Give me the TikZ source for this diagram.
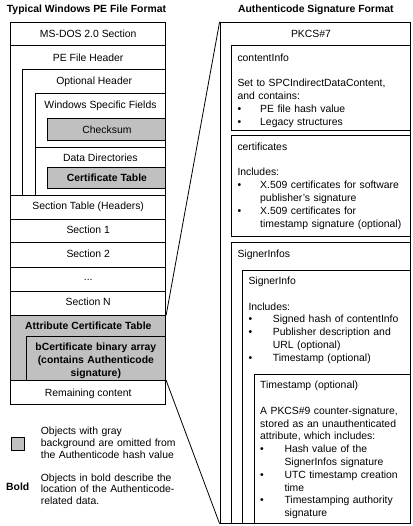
\documentclass[tikz,border=0pt]{standalone}
\usepackage{fontspec}
\setmainfont{Liberation Sans}
\usetikzlibrary{fit}
\definecolor{shade}{RGB}{192,192,192}
\newcommand{\bulitem}[2]{\makebox[#1][l]{\textbullet}#2}
\newcommand{\contline}[2]{\hspace*{#1}#2}
\begin{document}
\begin{tikzpicture}[x=1pt,y=-1pt,
  box/.style={draw, line width=0.8pt, inner sep=0pt},
  gbox/.style={box, fill=shade},
  lbl/.style={inner sep=0pt, text height=7.45pt, text depth=0pt, font=\fontsize{10.4}{12.8}\selectfont},
  blbl/.style={lbl, font=\fontsize{10.4}{12.8}\selectfont\bfseries},
  txt/.style={inner sep=0pt, anchor=base west, align=left, text width=200pt, font=\fontsize{10.4}{12.8}\selectfont},
  conn/.style={line width=0.8pt}]
\useasboundingbox (0,0) rectangle (412,526);
% ---------- left: PE file ----------
\node[box, fit={(10.7,22) (165.7,45.7)}] (msdos) {};
\node[box, fit={(10.7,45.7) (165.7,195)}] (pe) {};
\node[box, fit={(22.7,69.7) (165.7,195)}] (opt) {};
\node[box, fit={(35.3,93.7) (165.7,147.7)}] (win) {};
\node[gbox, fit={(47.7,118.3) (165.7,140.3)}] (chk) {};
\node[box, fit={(35.3,147.7) (165.7,195)}] (dd) {};
\node[gbox, fit={(47.7,167) (165.7,188.3)}] (ct) {};
\node[box, fit={(10.7,195) (165.7,219.3)}] (sect) {};
\node[box, fit={(10.7,219.3) (165.7,242.7)}] (s1) {};
\node[box, fit={(10.7,242.7) (165.7,267)}] (s2) {};
\node[box, fit={(10.7,267) (165.7,291)}] (sdots) {};
\node[box, fit={(10.7,291) (165.7,315)}] (sn) {};
\node[gbox, fit={(10.7,315) (165.7,380.7)}] (act) {};
\node[gbox, fit={(26,336) (165.7,380.7)}] (bcert) {};
\node[box, fit={(10.7,380.7) (165.7,404)}] (rem) {};
\node[gbox, fit={(11,437.3) (24,450.7)}] (leg) {};
% ---------- right: Authenticode ----------
\node[box, fit={(220,22.3) (410.7,523.3)}] (pkcs) {};
\node[box, fit={(231.7,45.7) (410.7,130)}] (ci) {};
\node[box, fit={(231.7,135.7) (410.7,236.7)}] (certs) {};
\node[box, fit={(231.7,242.3) (410.7,523.3)}] (sis) {};
\node[box, fit={(242.7,270) (410.7,523.3)}] (si) {};
\node[box, fit={(254.3,374.3) (410.7,523.3)}] (ts) {};
% ---------- connectors ----------
\draw[conn] (sn.south east) -- (pkcs.north west);
\draw[conn] (rem.north east) -- (pkcs.south west);
% ---------- titles ----------
\node[blbl, anchor=west] (ttl1) at (6.7,9) {Typical Windows PE File Format};
\node[blbl] (ttl2) at (315.8,9) {Authenticode Signature Format};
% ---------- left labels ----------
\node[lbl] (tmsdos) at (88.2,33.3) {MS-DOS 2.0 Section};
\node[lbl] (tpe) at (88.2,57.3) {PE File Header};
\node[lbl] (topt) at (94.2,81) {Optional Header};
\node[lbl] (twin) at (100.5,105) {Windows Specific Fields};
\node[lbl] (tchk) at (106.9,130) {Checksum};
\node[lbl] (tdd) at (100.4,157.7) {Data Directories};
\node[blbl] (tct) at (106.9,177.7) {Certificate Table};
\node[lbl] (tsect) at (88.2,206) {Section Table (Headers)};
\node[lbl] (ts1) at (88.2,230) {Section 1};
\node[lbl] (ts2) at (88.2,254) {Section 2};
\node[lbl] (tsdots) at (88.2,276.6) {...};
\node[lbl] (tsn) at (88.2,301.7) {Section N};
\node[blbl] (tact) at (88.3,326) {Attribute Certificate Table};
\node[inner sep=0pt, anchor=base, align=center, text width=138pt, font=\fontsize{10.4}{13}\selectfont\bfseries] (tbcert) at (95.85,350.4) {bCertificate binary array\\(contains Authenticode\\signature)};
\node[lbl] (trem) at (88.2,392.7) {Remaining content};
% ---------- legend ----------
\node[txt, font=\fontsize{10.4}{12.2}\selectfont] (leg1) at (40.7,434.4) {Objects with gray\\background are omitted from\\the Authenticode hash value};
\node[blbl, anchor=west] (tbold) at (6,487) {Bold};
\node[txt, font=\fontsize{10.4}{11.5}\selectfont] (leg2) at (40.7,481.4) {Objects in bold describe the\\location of the Authenticode-\\related data.};
% ---------- right labels ----------
\node[lbl] (tpkcs) at (311,33.3) {PKCS\#7};
\node[txt] (tci) at (237.3,61.4) {contentInfo\\[12.8pt]Set to SPCIndirectDataContent,\\and contains:\\\bulitem{22.7pt}{PE file hash value}\\\bulitem{22.7pt}{Legacy structures}};
\node[txt] (tcerts) at (237.3,150.4) {certificates\\[12.8pt]Includes:\\\bulitem{22.7pt}{X.509 certificates for software}\\\contline{22.7pt}{publisher's signature}\\\bulitem{22.7pt}{X.509 certificates for}\\\contline{22.7pt}{timestamp signature (optional)}};
\node[txt] (tsis) at (237.3,257.7) {SignerInfos};
\node[txt] (tsi) at (248.3,284.4) {SignerInfo\\[12.8pt]Includes:\\\bulitem{24.4pt}{Signed hash of contentInfo}\\\bulitem{24.4pt}{Publisher description and}\\\contline{24.4pt}{URL (optional)}\\\bulitem{24.4pt}{Timestamp (optional)}};
\node[txt] (tts) at (260,388.7) {Timestamp (optional)\\[12.8pt]A PKCS\#9 counter-signature,\\stored as an unauthenticated\\attribute, which includes:\\\bulitem{24.3pt}{Hash value of the}\\\contline{24.3pt}{SignerInfos signature}\\\bulitem{24.3pt}{UTC timestamp creation}\\\contline{24.3pt}{time}\\\bulitem{24.3pt}{Timestamping authority}\\\contline{24.3pt}{signature}};
\end{tikzpicture}
\end{document}
